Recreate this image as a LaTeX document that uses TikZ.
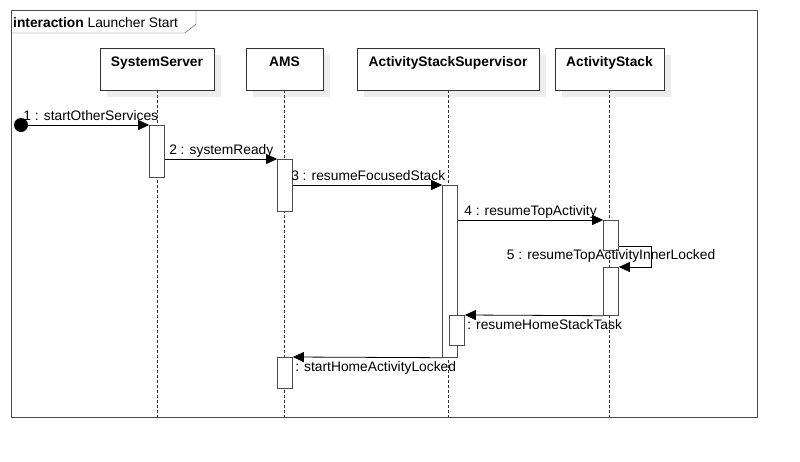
\documentclass[tikz,border=0pt]{standalone}
\usepackage{fontspec}
\setmainfont{Liberation Sans}
\usetikzlibrary{arrows.meta,shadows}
\begin{document}
\begin{tikzpicture}[x=1pt, y=-1pt, font=\fontsize{13.8}{16}\selectfont,
    obj/.style={draw=black!80, fill=white, anchor=north, inner xsep=0pt,
      inner ysep=8.5pt, text height=10pt, text depth=15pt, font=\fontsize{13.8}{16}\selectfont\bfseries,
      general shadow={fill=black!7, draw=none, shadow xshift=7pt, shadow yshift=-7pt}},
    act/.style={draw=black!70, fill=white, line width=0.7pt, anchor=north, minimum width=15pt, inner sep=0pt},
    msg/.style={draw=black, line width=0.8pt, -{Triangle[length=11pt, width=10pt]}},
    lbl/.style={inner sep=2pt, text depth=2.5pt},
    life/.style={draw=black!80, line width=0.6pt, dash pattern=on 3pt off 2pt}]
  \useasboundingbox (0,0) rectangle (800,461);
  % frame
  \draw[black!70, line width=1pt] (11,10) rectangle (757,417);
  \draw[black!70] (11,33) -- (185,33) -- (196,24) -- (196,10);
  \node[anchor=base west, inner sep=0pt] (title) at (13,27) {\textbf{interaction} Launcher Start};
  \coordinate (bottom) at (0,417);
  % lifelines
  \draw
    (157,48) node[obj, minimum width=114pt] (server){SystemServer}
    (284.5,48) node[obj, minimum width=77pt] (ams){AMS}
    (448,48) node[obj, minimum width=182pt] (super){ActivityStackSupervisor}
    (609.5,48) node[obj, minimum width=109pt] (stack){ActivityStack};
  \foreach \o in {server,ams,super,stack}
    \draw[life] (\o.south) -- (\o.south |- bottom);
  % activations
  \draw
    (157,125) node[act, minimum height=52pt] (server1){}
    (285,159) node[act, minimum height=52pt] (ams1){}
    (450,185) node[act, minimum height=172pt] (super1){}
    (611,220) node[act, minimum height=30pt] (stack1){}
    (611,267) node[act, minimum height=48pt] (stack2){}
    (457,315) node[act, minimum height=30pt] (super2){}
    (285,357) node[act, minimum height=31pt] (ams2){};
  \node[circle, fill, minimum size=14pt, inner sep=0pt] (start) at (21,125) {};
  % messages
  \begin{scope}[msg]
    \draw (start.center) -- (server1.north west)
      node[pos=0, lbl, above right] {1 : startOtherServices};
    \draw (server1.east |- ams1.north) -- (ams1.north west)
      node[pos=0, lbl, above right, xshift=2pt] {2 : systemReady};
    \draw (ams1.east |- super1.north) -- (super1.north west)
      node[pos=0, lbl, above right, xshift=-4pt] {3 : resumeFocusedStack};
    \draw (super1.east |- stack1.north) -- (stack1.north west)
      node[pos=0, lbl, above right, xshift=4pt] {4 : resumeTopActivity};
    \draw ([yshift=4pt]stack1.south east) -- ++(33,0) |- (stack2.north east);
    \draw (stack2.south west) -- (super2.north east)
      node[pos=1, lbl, below right, yshift=-2pt] {: resumeHomeStackTask};
    \draw (super1.south west) -- (ams2.north east)
      node[pos=1, lbl, below right, yshift=-2pt] {: startHomeActivityLocked};
  \end{scope}
  \node[inner sep=0pt] (loop5) at ([yshift=-5pt]stack1.south) {5 : resumeTopActivityInnerLocked};
\end{tikzpicture}
\end{document}
